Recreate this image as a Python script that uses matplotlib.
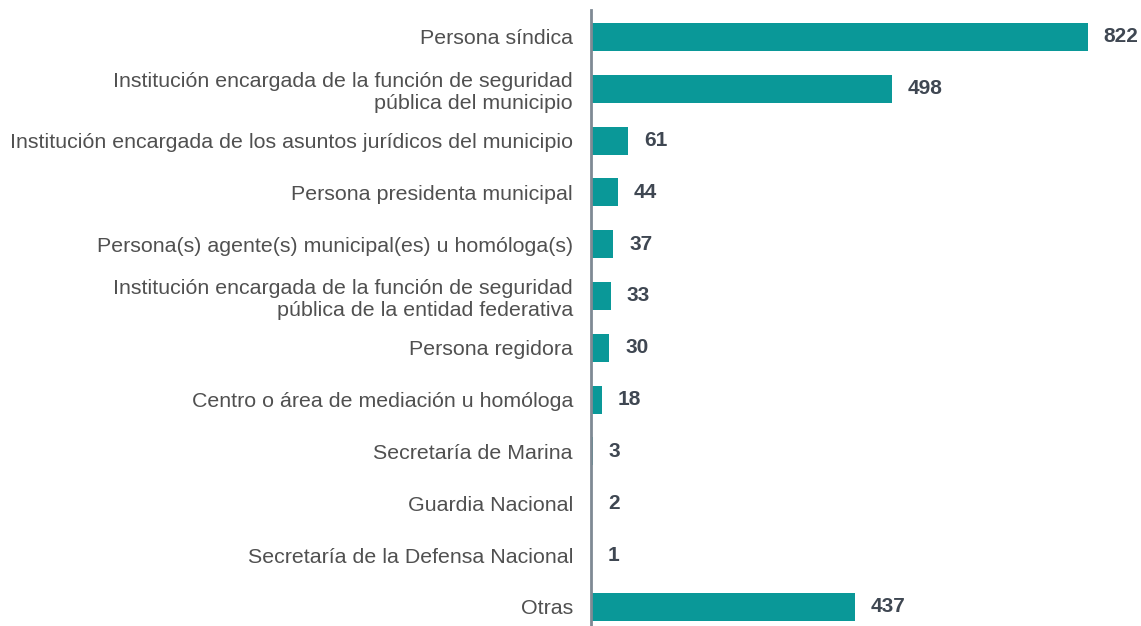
import matplotlib
matplotlib.use('Agg')
import matplotlib.pyplot as plt
from matplotlib.transforms import offset_copy

plt.rcParams['font.family'] = ['Liberation Sans', 'DejaVu Sans']

categories = [
    'Persona síndica',
    'Institución encargada de la función de seguridad\npública del municipio',
    'Institución encargada de los asuntos jurídicos del municipio',
    'Persona presidenta municipal',
    'Persona(s) agente(s) municipal(es) u homóloga(s)',
    'Institución encargada de la función de seguridad\npública de la entidad federativa',
    'Persona regidora',
    'Centro o área de mediación u homóloga',
    'Secretaría de Marina',
    'Guardia Nacional',
    'Secretaría de la Defensa Nacional',
    'Otras',
]
values = [822, 498, 61, 44, 37, 33, 30, 18, 3, 2, 1, 437]

bar_color = '#0A9898'
label_color = '#505050'
value_color = '#3F4752'

fig = plt.figure(figsize=(11.41, 6.26), dpi=100)
ax = fig.add_axes([591 / 1141, 0.0, 1 - 591 / 1141, 1 - 10 / 626])

pos = list(range(len(categories)))
ax.barh(pos, values, height=0.54, color=bar_color)
ax.set_xlim(0, 910)
ax.set_ylim(11.37, -0.52)

ax.set_yticks(pos)
ax.set_yticklabels(categories, fontsize=15.4, color=label_color, linespacing=1.2)
ax.tick_params(axis='y', length=0, pad=13)
ax.set_xticks([])

for s in ['top', 'right', 'bottom']:
    ax.spines[s].set_visible(False)
ax.spines['left'].set_color('#7F8A94')
ax.spines['left'].set_linewidth(2)

trans = offset_copy(ax.transData, fig=fig, x=16, y=0, units='dots')
for p, v in zip(pos, values):
    ax.text(v, p, str(v), transform=trans, va='center', ha='left',
            fontsize=15, fontweight='bold', color=value_color, clip_on=False)

fig.savefig('out.png', dpi=100)
